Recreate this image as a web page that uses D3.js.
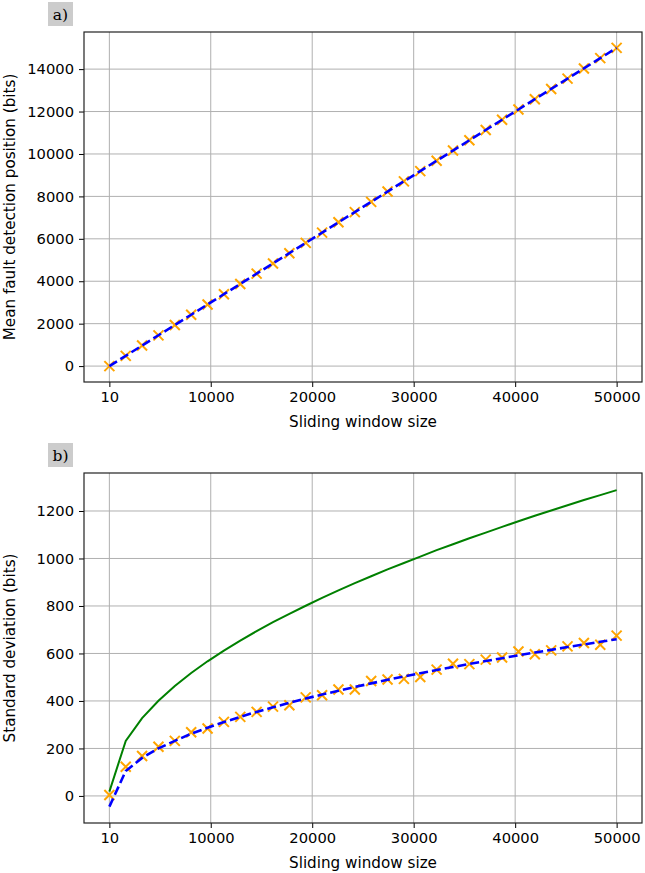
<!DOCTYPE html>
<html>
<head>
<meta charset="utf-8">
<script src="https://cdn.jsdelivr.net/npm/d3@7"></script>
<style>
  body { margin: 0; background: #fff; }
  svg { display: block; font-family: "DejaVu Sans", sans-serif; }
  .grid line { stroke: #b0b0b0; stroke-width: 1; }
</style>
</head>
<body>
<div id="chart"></div>
<script>

// window sizes (x for every point in both panels)
var windowSizes = [10, 1623, 3235, 4848, 6460, 8073, 9686, 11298, 12911, 14523, 16136,
  17748, 19361, 20974, 22586, 24199, 25811, 27424, 29036, 30649, 32262, 33874,
  35487, 37099, 38712, 40324, 41937, 43550, 45162, 46775, 48387, 50000];

// panel a) mean fault detection position
var meanMeasured = [0, 480, 970, 1450, 1940, 2420, 2900, 3390, 3870, 4360, 4840,
  5320, 5810, 6290, 6780, 7260, 7740, 8230, 8710, 9190, 9680, 10160,
  10650, 11130, 11610, 12100, 12580, 13060, 13550, 14030, 14520, 15000];
var meanFit = [0, 484, 968, 1453, 1937, 2421, 2905, 3389, 3873, 4357, 4841,
  5324, 5808, 6292, 6776, 7260, 7743, 8227, 8711, 9195, 9679, 10162,
  10646, 11130, 11614, 12097, 12581, 13065, 13549, 14033, 14516, 15000];

// panel b) standard deviation
var stdMeasured = [4, 123, 168, 207, 232, 268, 284, 312, 333, 354, 376,
  382, 415, 424, 448, 448, 484, 490, 493, 501, 532, 557,
  555, 574, 583, 608, 597, 613, 630, 644, 637, 675];
var stdFit = [-45, 105, 160, 200, 232, 262, 287, 311, 333, 354, 373,
  392, 410, 427, 443, 459, 474, 489, 503, 517, 530, 543,
  556, 568, 580, 592, 604, 615, 627, 638, 649, 660];
var stdTheory = [18, 232, 328, 401, 463, 518, 567, 612, 654, 694, 732,
  767, 801, 834, 866, 896, 925, 954, 981, 1008, 1035, 1060,
  1085, 1109, 1133, 1157, 1180, 1202, 1224, 1246, 1267, 1288];

var xTicks = [10, 10000, 20000, 30000, 40000, 50000];
var yTicksA = [0, 2000, 4000, 6000, 8000, 10000, 12000, 14000];
var yTicksB = [0, 200, 400, 600, 800, 1000, 1200];

var svg = d3.select("#chart").append("svg")
    .attr("width", 645)
    .attr("height", 873);

/*
 * Panel - draws one matplotlib-like axes box
 */
Panel = function(opts){
  var vis = this;
  vis.opts = opts;

  vis.g = svg.append("g");

  vis.x = d3.scaleLinear()
      .domain([-2490, 52500])
      .range([opts.left, opts.right]);

  vis.y = d3.scaleLinear()
      .domain(opts.yDomain)
      .range([opts.bottom, opts.top]);

  // grid
  var grid = vis.g.append("g").attr("class", "grid");
  grid.selectAll(".gx").data(xTicks).enter().append("line")
      .attr("x1", function(d){ return vis.x(d); })
      .attr("x2", function(d){ return vis.x(d); })
      .attr("y1", opts.top).attr("y2", opts.bottom);
  grid.selectAll(".gy").data(opts.yTicks).enter().append("line")
      .attr("x1", opts.left).attr("x2", opts.right)
      .attr("y1", function(d){ return vis.y(d); })
      .attr("y2", function(d){ return vis.y(d); });

  vis.plot = vis.g.append("g");

  // axes
  var xAxis = d3.axisBottom(vis.x).tickValues(xTicks).tickFormat(d3.format("d"))
      .tickSizeInner(5).tickSizeOuter(0).tickPadding(5);
  var yAxis = d3.axisLeft(vis.y).tickValues(opts.yTicks).tickFormat(d3.format("d"))
      .tickSizeInner(5).tickSizeOuter(0).tickPadding(5);

  var gx = vis.g.append("g")
      .attr("transform", "translate(0," + opts.bottom + ")")
      .call(xAxis);
  var gy = vis.g.append("g")
      .attr("transform", "translate(" + opts.left + ",0)")
      .call(yAxis);
  [gx, gy].forEach(function(a){
    a.select(".domain").remove();
    a.selectAll("line").attr("stroke", "#000").attr("stroke-width", 1);
    a.selectAll("text").attr("font-size", 14.7).attr("fill", "#000")
      .attr("font-family", "DejaVu Sans, sans-serif");
  });

  // frame
  vis.g.append("rect")
      .attr("x", opts.left).attr("y", opts.top)
      .attr("width", opts.right - opts.left)
      .attr("height", opts.bottom - opts.top)
      .attr("fill", "none").attr("stroke", "#222").attr("stroke-width", 1.2);

  // axis labels
  vis.g.append("text")
      .attr("x", (opts.left + opts.right) / 2)
      .attr("y", opts.bottom + 45)
      .attr("text-anchor", "middle")
      .attr("font-size", 15.2)
      .text("Sliding window size");

  vis.g.append("text")
      .attr("transform", "translate(15," + (opts.top + opts.bottom) / 2 + ") rotate(-90)")
      .attr("text-anchor", "middle")
      .attr("font-size", 15.2)
      .text(opts.yLabel);

  // panel tag
  vis.g.append("rect")
      .attr("x", 48).attr("y", opts.top - 30)
      .attr("width", 25).attr("height", 24)
      .attr("fill", "#cccccc");
  vis.g.append("text")
      .attr("x", 60.5).attr("y", opts.top - 12.5)
      .attr("text-anchor", "middle")
      .attr("font-family", "DejaVu Serif, serif")
      .attr("font-size", 15.5)
      .text(opts.tag);
}

Panel.prototype.addLine = function(values, color, dashed){
  var vis = this;
  var line = d3.line()
      .x(function(d, i){ return vis.x(windowSizes[i]); })
      .y(function(d){ return vis.y(d); });
  vis.plot.append("path")
      .datum(values)
      .attr("fill", "none")
      .attr("stroke", color)
      .attr("stroke-width", dashed ? 2.6 : 2)
      .attr("stroke-dasharray", dashed ? "9,4" : null)
      .attr("d", line);
}

Panel.prototype.addCrosses = function(values){
  var vis = this;
  var s = 5;
  vis.plot.selectAll(".cross").data(values).enter().append("path")
      .attr("class", "cross")
      .attr("fill", "none")
      .attr("stroke", "orange")
      .attr("stroke-width", 2)
      .attr("d", function(d, i){
        var cx = vis.x(windowSizes[i]), cy = vis.y(d);
        return "M" + (cx - s) + "," + (cy - s) + "L" + (cx + s) + "," + (cy + s) +
               "M" + (cx - s) + "," + (cy + s) + "L" + (cx + s) + "," + (cy - s);
      });
}

var panelA = new Panel({
  left: 84, right: 642, top: 32, bottom: 382,
  yDomain: [-750, 15750], yTicks: yTicksA,
  yLabel: "Mean fault detection position (bits)", tag: "a)"
});
panelA.addCrosses(meanMeasured);
panelA.addLine(meanFit, "blue", true);

var panelB = new Panel({
  left: 84, right: 642, top: 473, bottom: 823,
  yDomain: [-114, 1360], yTicks: yTicksB,
  yLabel: "Standard deviation (bits)", tag: "b)"
});
panelB.addLine(stdTheory, "green", false);
panelB.addCrosses(stdMeasured);
panelB.addLine(stdFit, "blue", true);

</script>
</body>
</html>
